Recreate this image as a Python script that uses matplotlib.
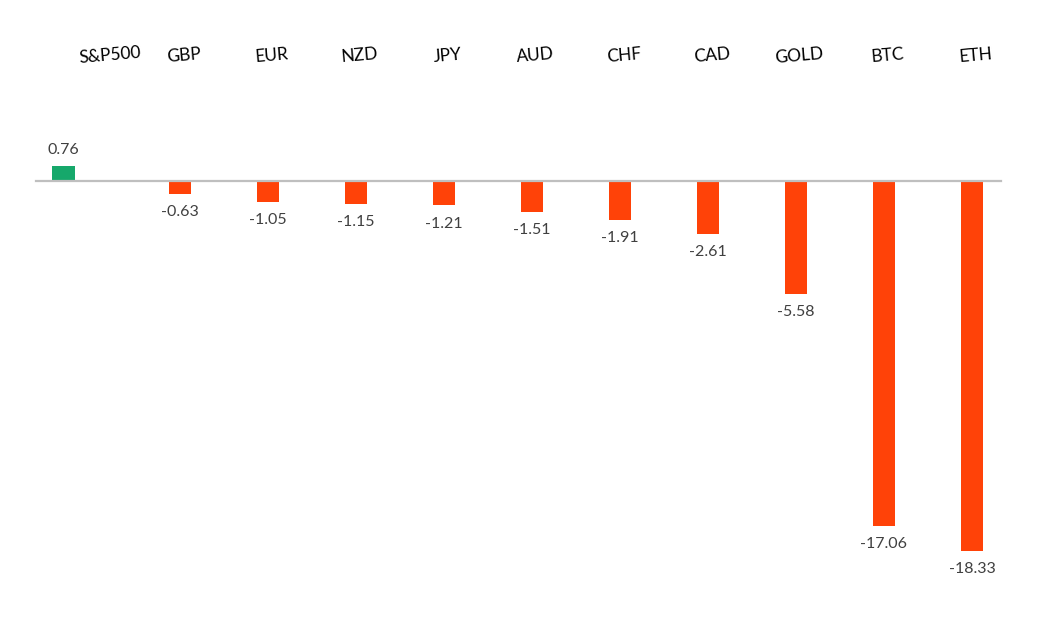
# Weekly performance vs USD, bar chart with labels on top
import numpy as np
import matplotlib.pyplot as plt

assets = ['S&P500', 'GBP', 'EUR', 'NZD', 'JPY', 'AUD', 'CHF', 'CAD', 'GOLD', 'BTC', 'ETH']
changes = [0.76, -0.63, -1.05, -1.15, -1.21, -1.51, -1.91, -2.61, -5.58, -17.06, -18.33]

pos_color = '#16a86b'
neg_color = '#ff4208'

x = np.arange(len(assets)).astype(float)
# first bar sits a bit further left than the even spacing in the original
bar_x = x.copy()
bar_x[0] -= 0.32
label_x = x + 0.04
label_x[0] += 0.16

fig = plt.figure(figsize=(10.49, 6.23), dpi=100)
ax = fig.add_axes([0, 0, 1, 1])
ax.set_xlim(-1.045, 10.875)
ax.set_ylim(-21.88, 8.96)
ax.axis('off')

colors = [pos_color if v >= 0 else neg_color for v in changes]
ax.bar(bar_x, changes, width=0.26, color=colors, zorder=2)
ax.plot([-0.636, 10.33], [0, 0], color='#bfbfbf', lw=1.6, zorder=3)

for xi, v in zip(bar_x, changes):
    if v >= 0:
        ax.text(xi, v + 0.45, f'{v:.2f}', ha='center', va='bottom',
                fontsize=11.5, color='#404040', family='Lato')
    else:
        ax.text(xi, v - 0.55, f'{v:.2f}', ha='center', va='top',
                fontsize=11.5, color='#404040', family='Lato')

for xl, name in zip(label_x, assets):
    ax.text(xl, 6.2, name, ha='center', va='center', rotation=5,
            fontsize=12.5, color='black', family='Lato')

fig.savefig('out.png', dpi=100)
